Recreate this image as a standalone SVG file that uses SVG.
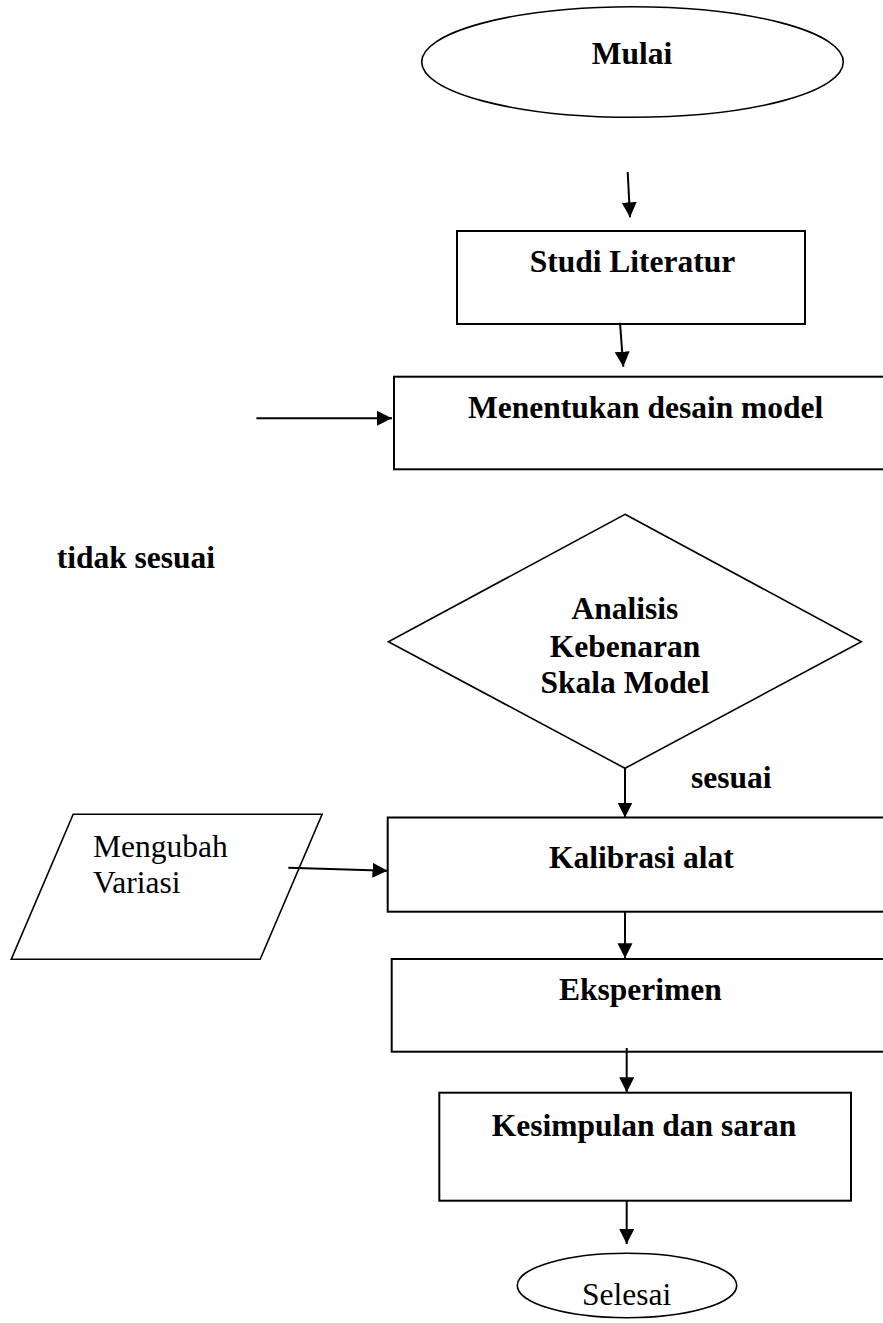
<svg xmlns="http://www.w3.org/2000/svg" width="883" height="1323" viewBox="0 0 883 1323">
<style>
.shape{fill:#fff;stroke:#000;stroke-width:2}
.thin{fill:#fff;stroke:#000;stroke-width:1.6}
.b{font-family:"Liberation Serif","Times New Roman",serif;font-weight:bold;font-size:31.5px;fill:#000}
.r{font-family:"Liberation Serif","Times New Roman",serif;font-size:31.5px;fill:#000}
.c{text-anchor:middle}
.conn{stroke:#000;stroke-width:2;fill:none;marker-end:url(#ah)}
</style>
<defs>
<marker id="ah" markerUnits="userSpaceOnUse" markerWidth="16" markerHeight="16" refX="15" refY="7.5" orient="auto">
<path d="M0,0 L15,7.5 L0,15 z" fill="#000"/>
</marker>
</defs>
<rect width="883" height="1323" fill="#fff"/>
<g id="mulai">
<ellipse class="thin" cx="632.5" cy="62" rx="210.8" ry="55.3"/>
<text class="b c" x="632" y="64">Mulai</text>
</g>
<g id="studi">
<rect class="shape" x="457" y="231" width="348" height="93"/>
<text class="b c" x="632.5" y="272">Studi Literatur</text>
</g>
<g id="desain">
<rect class="shape" x="394" y="376.7" width="520" height="92.6"/>
<text class="b" x="468" y="418.3">Menentukan desain model</text>
</g>
<g id="tidak">
<text class="b" x="56.7" y="568.3">tidak sesuai</text>
</g>
<g id="analisis">
<polygon class="thin" points="625,514.3 861.3,641.7 625,768.3 388.4,641.7"/>
<text class="b c" x="625" y="619.3">Analisis</text>
<text class="b c" x="625" y="656.7">Kebenaran</text>
<text class="b c" x="625" y="693.3">Skala Model</text>
</g>
<g id="sesuai">
<text class="b" x="691" y="788">sesuai</text>
</g>
<g id="variasi">
<polygon class="thin" points="73.2,814.3 322.1,814.3 260.2,959.3 11.3,959.3"/>
<text class="r" x="93" y="856.7">Mengubah</text>
<text class="r" x="93" y="893">Variasi</text>
</g>
<g id="kalibrasi">
<rect class="shape" x="387.7" y="817.5" width="520" height="94.2"/>
<text class="b" x="549" y="868">Kalibrasi alat</text>
</g>
<g id="eksperimen">
<rect class="shape" x="391.7" y="959" width="520" height="92.7"/>
<text class="b" x="559" y="1000">Eksperimen</text>
</g>
<g id="kesimpulan">
<rect class="shape" x="439.3" y="1092.7" width="411.7" height="108"/>
<text class="b" x="491.7" y="1135.7">Kesimpulan dan saran</text>
</g>
<g id="selesai">
<ellipse class="thin" cx="627" cy="1285.5" rx="109.7" ry="32.3"/>
<text class="r c" x="626.7" y="1305">Selesai</text>
</g>
<g id="connectors">
<line class="conn" x1="627.7" y1="172" x2="630" y2="217.3"/>
<line class="conn" x1="620" y1="322.7" x2="623.3" y2="366.7"/>
<line class="conn" x1="256.4" y1="418.3" x2="392" y2="418.3"/>
<line class="conn" x1="625" y1="768.3" x2="625" y2="817.5"/>
<line class="conn" x1="288.3" y1="867.7" x2="387.5" y2="870.7"/>
<line class="conn" x1="625" y1="911.7" x2="625" y2="958.3"/>
<line class="conn" x1="626.7" y1="1048" x2="626.7" y2="1092.3"/>
<line class="conn" x1="626.7" y1="1200.7" x2="626.7" y2="1244"/>
</g>
</svg>
